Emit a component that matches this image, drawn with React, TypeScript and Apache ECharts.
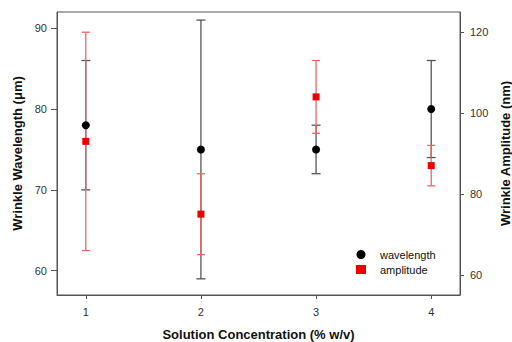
import React, { useEffect, useRef } from "react";
import * as echarts from "echarts";

const concentration = [1, 2, 3, 4];
const wavelength = [78, 75, 75, 80];
const wavelengthErr = [8, 16, 3, 6];
const amplitude = [93, 75, 104, 87];
const amplitudeErr = [27, 10, 9, 5];
const leftTicks = [60, 70, 80, 90];
const rightTicks = [60, 80, 100, 120];

const FONT = "'Liberation Sans', Arial, sans-serif";
const AXIS = "#555555";

function errRender(color: string, lw: number, half: number) {
  return (params: any, api: any) => {
    const x = api.value(0);
    const lo = api.value(1);
    const hi = api.value(2);
    const t = api.coord([x, hi]);
    const b = api.coord([x, lo]);
    const style = { stroke: color, lineWidth: lw, fill: "none" };
    return {
      type: "group",
      children: [
        { type: "line", shape: { x1: t[0], y1: t[1], x2: b[0], y2: b[1] }, style },
        { type: "line", shape: { x1: t[0] - half, y1: t[1], x2: t[0] + half, y2: t[1] }, style },
        { type: "line", shape: { x1: b[0] - half, y1: b[1], x2: b[0] + half, y2: b[1] }, style },
      ],
    };
  };
}

export default function App() {
  const ref = useRef<HTMLDivElement>(null);
  useEffect(() => {
    if (!ref.current) return;
    const chart = echarts.init(ref.current, undefined, { renderer: "svg" });
    const wlErrData = concentration.map((c, i) => [c, wavelength[i] - wavelengthErr[i], wavelength[i] + wavelengthErr[i]]);
    const amErrData = concentration.map((c, i) => [c, amplitude[i] - amplitudeErr[i], amplitude[i] + amplitudeErr[i]]);
    chart.setOption({
      animation: false,
      backgroundColor: "#ffffff",
      textStyle: { fontFamily: FONT },
      grid: {
        left: 57,
        top: 12,
        right: 52,
        bottom: 47,
        outerBoundsMode: "none",
        containLabel: false,
        show: true,
        borderColor: AXIS,
        borderWidth: 1,
        backgroundColor: "transparent",
      },
      legend: {
        orient: "vertical",
        left: 351,
        top: 244,
        itemWidth: 10,
        itemHeight: 9,
        itemGap: 4,
        data: ["wavelength", "amplitude"],
        textStyle: { fontFamily: FONT, fontSize: 11, color: "#111", padding: [0, 0, 0, 9] },
      },
      xAxis: {
        type: "value",
        min: 0.75,
        max: 4.25,
        name: "Solution Concentration (% w/v)",
        nameLocation: "middle",
        nameGap: 33,
        nameTextStyle: { fontFamily: FONT, fontSize: 13, fontWeight: "bold", color: "#111" },
        axisLine: { show: true, lineStyle: { color: AXIS } },
        axisTick: { show: true, length: 4, lineStyle: { color: AXIS }, customValues: concentration },
        axisLabel: {
          fontFamily: FONT,
          fontSize: 11,
          color: "#333",
          margin: 11,
          customValues: concentration,
          formatter: (v: number) => String(v),
        },
        splitLine: { show: false },
      },
      yAxis: [
        {
          type: "value",
          min: 57,
          max: 92,
          name: "Wrinkle Wavelength (\u03bcm)",
          nameLocation: "middle",
          nameGap: 33,
          nameTextStyle: { fontFamily: FONT, fontSize: 13, fontWeight: "bold", color: "#111" },
          axisLine: { show: true, lineStyle: { color: AXIS } },
          axisTick: { show: true, length: 6, lineStyle: { color: AXIS }, customValues: leftTicks },
          axisLabel: { fontFamily: FONT, fontSize: 11, color: "#333", margin: 10, customValues: leftTicks },
          splitLine: { show: false },
        },
        {
          type: "value",
          position: "right",
          min: 55,
          max: 125,
          name: "Wrinkle Amplitude (nm)",
          nameLocation: "middle",
          nameGap: 39,
          nameTextStyle: { fontFamily: FONT, fontSize: 13, fontWeight: "bold", color: "#111" },
          axisLine: { show: true, lineStyle: { color: AXIS } },
          axisTick: { show: true, length: 4, lineStyle: { color: AXIS }, customValues: rightTicks },
          axisLabel: { fontFamily: FONT, fontSize: 11, color: "#333", margin: 10, customValues: rightTicks },
          splitLine: { show: false },
        },
      ],
      series: [
        {
          name: "wavelengthErr",
          type: "custom",
          yAxisIndex: 0,
          z: 1,
          renderItem: errRender("#555555", 1.3, 4.5),
          encode: { x: 0, y: [1, 2] },
          data: wlErrData,
        },
        {
          name: "amplitudeErr",
          type: "custom",
          yAxisIndex: 1,
          z: 2,
          renderItem: errRender("#f26464", 1.3, 4),
          encode: { x: 0, y: [1, 2] },
          data: amErrData,
        },
        {
          name: "wavelength",
          type: "scatter",
          yAxisIndex: 0,
          z: 3,
          symbol: "circle",
          symbolSize: 8,
          itemStyle: { color: "#000000", opacity: 1 },
          data: concentration.map((c, i) => [c, wavelength[i]]),
        },
        {
          name: "amplitude",
          type: "scatter",
          yAxisIndex: 1,
          z: 3,
          symbol: "rect",
          symbolSize: 7,
          itemStyle: { color: "#ee0000", opacity: 1 },
          data: concentration.map((c, i) => [c, amplitude[i]]),
        },
      ],
    });
    return () => chart.dispose();
  }, []);
  return <div ref={ref} style={{ position: "fixed", left: 0, top: 0, width: 512, height: 342 }} />;
}
